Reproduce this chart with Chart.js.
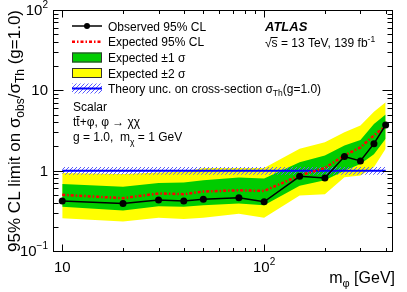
<!DOCTYPE html>
<html>
<head>
<meta charset="utf-8">
<script src="https://cdn.jsdelivr.net/npm/chart.js@4/dist/chart.umd.min.js"></script>
<style>
html,body{margin:0;padding:0;background:#fff;}
#wrap{width:407px;height:292px;}
</style>
</head>
<body>
<div id="wrap"><canvas id="c" width="407" height="292"></canvas></div>
<script>
// ---- data ----
const masses    = [10, 20, 30, 40, 50, 75, 100, 150, 200, 250, 300, 350, 400];
const observed  = [0.42, 0.39, 0.43, 0.42, 0.44, 0.46, 0.41, 0.85, 0.81, 1.50, 1.32, 2.17, 3.70];
const expected  = [0.50, 0.455, 0.52, 0.51, 0.55, 0.57, 0.56, 0.87, 1.08, 1.55, 1.95, 2.75, 3.60];
const exp1Up    = [0.68, 0.63, 0.70, 0.71, 0.76, 0.82, 0.80, 1.27, 1.54, 2.05, 2.40, 3.80, 5.00];
const exp1Down  = [0.355, 0.32, 0.36, 0.355, 0.37, 0.39, 0.37, 0.65, 0.76, 1.00, 1.21, 1.60, 2.50];
const exp2Up    = [0.935, 0.91, 0.95, 0.97, 1.08, 1.08, 1.08, 1.87, 2.26, 3.00, 3.65, 5.40, 7.10];
const exp2Down  = [0.256, 0.233, 0.26, 0.25, 0.26, 0.29, 0.26, 0.49, 0.51, 0.83, 0.87, 1.10, 1.87];
const theoryMass    = [10, 400];
const theoryCentral = [1.0, 1.0];
const theoryUp      = [1.11, 1.11];
const theoryDown    = [0.89, 0.89];

const xTickValues = [10, 100];
const xTickLabels = [['10', ''], ['10', '2']];
const yTickValues = [0.1, 1, 10, 100];
const yTickLabels = [['10', '\u22121'], ['1', ''], ['10', ''], ['10', '2']];
const xMinorTicks = [20, 30, 40, 50, 60, 70, 80, 90, 200, 300, 400];
const yMinorTicks = [0.2,0.3,0.4,0.5,0.6,0.7,0.8,0.9,2,3,4,5,6,7,8,9,20,30,40,50,60,70,80,90];

const legendLabels = ['Observed 95% CL', 'Expected 95% CL', 'Expected \u00b11 \u03c3', 'Expected \u00b12 \u03c3'];

const FONT = '"Liberation Sans", Arial, Helvetica, sans-serif';
const GREEN = '#00cc00', YELLOW = '#ffff00', RED = '#ff0000', BLUE = '#0000ff';

function pts(xs, ys){ return xs.map((x,i)=>({x:x, y:ys[i]})); }

// hatch pattern
const pc = document.createElement('canvas'); pc.width = 4; pc.height = 4;
const pctx = pc.getContext('2d');
pctx.strokeStyle = '#5a5aff'; pctx.lineWidth = 1;
pctx.beginPath();
pctx.moveTo(-1,5); pctx.lineTo(5,-1);
pctx.moveTo(-1,1); pctx.lineTo(1,-1);
pctx.moveTo(3,5); pctx.lineTo(5,3);
pctx.stroke();
const ctx0 = document.getElementById('c').getContext('2d');
const hatch = ctx0.createPattern(pc, 'repeat');

function drawRich(ctx, segs, x, y, align){
  let w = 0;
  segs.forEach(s=>{ ctx.font = (s.bold?'bold ':'')+(s.italic?'italic ':'')+s.size+'px '+FONT; s.w = ctx.measureText(s.t).width; w += s.w; });
  let cx = align==='right' ? x - w : (align==='center' ? x - w/2 : x);
  ctx.textAlign = 'left'; ctx.textBaseline = 'alphabetic';
  segs.forEach(s=>{ ctx.font = (s.bold?'bold ':'')+(s.italic?'italic ':'')+s.size+'px '+FONT; ctx.fillText(s.t, cx, y + (s.dy||0)); s.x0 = cx; cx += s.w; });
  return w;
}

const decor = {
  id: 'decor',
  afterDatasetsDraw(chart){
    const ctx = chart.ctx, a = chart.chartArea, xs = chart.scales.x, ys = chart.scales.y;
    ctx.save();
    ctx.fillStyle = '#000'; ctx.strokeStyle = '#000'; ctx.lineWidth = 1;
    // frame
    ctx.strokeRect(Math.round(a.left)+0.5, Math.round(a.top)+0.5, Math.round(a.right-a.left)-1, Math.round(a.bottom-a.top));
    // ticks
    ctx.beginPath();
    const L = Math.round(a.left)+0.5, R = Math.round(a.right)-0.5, T = Math.round(a.top)+0.5, B = Math.round(a.bottom)+0.5;
    xTickValues.forEach(v=>{ const p = Math.round(xs.getPixelForValue(v))+0.5; ctx.moveTo(p,B); ctx.lineTo(p,B-7); ctx.moveTo(p,T); ctx.lineTo(p,T+7); });
    xMinorTicks.forEach(v=>{ const p = Math.round(xs.getPixelForValue(v))+0.5; ctx.moveTo(p,B); ctx.lineTo(p,B-3.5); ctx.moveTo(p,T); ctx.lineTo(p,T+3.5); });
    yTickValues.forEach(v=>{ const p = Math.round(ys.getPixelForValue(v))+0.5; ctx.moveTo(L,p); ctx.lineTo(L+10,p); ctx.moveTo(R,p); ctx.lineTo(R-10,p); });
    yMinorTicks.forEach(v=>{ const p = Math.round(ys.getPixelForValue(v))+0.5; ctx.moveTo(L,p); ctx.lineTo(L+5,p); ctx.moveTo(R,p); ctx.lineTo(R-5,p); });
    ctx.stroke();
    // tick labels
    yTickValues.forEach((v,i)=>{
      const p = ys.getPixelForValue(v);
      drawRich(ctx, [{t:yTickLabels[i][0], size:15}, {t:yTickLabels[i][1], size:10, dy:-7}], 48, p+5, 'right');
    });
    xTickValues.forEach((v,i)=>{
      const p = xs.getPixelForValue(v);
      drawRich(ctx, [{t:xTickLabels[i][0], size:15}, {t:xTickLabels[i][1], size:10, dy:-7}], p, 272, 'center');
    });
    // axis titles
    drawRich(ctx, [{t:'m', size:16}, {t:'\u03c6', size:11, dy:4}, {t:' [GeV]', size:16}], 395, 283, 'right');
    ctx.save();
    ctx.translate(20, 10); ctx.rotate(-Math.PI/2);
    drawRich(ctx, [{t:'95% CL limit on \u03c3', size:17}, {t:'obs', size:12, dy:4}, {t:'/\u03c3', size:17}, {t:'Th', size:12, dy:4}, {t:' (g=1.0)', size:17}], 0, 0, 'right');
    ctx.restore();

    // legend
    const lx0 = 72, lx1 = 102, tx = 108;
    const rows = [30.5, 46.3, 62, 77.5, 93];
    // observed
    let cy = rows[0]-4.5;
    ctx.strokeStyle = '#000'; ctx.lineWidth = 1.5; ctx.setLineDash([]);
    ctx.beginPath(); ctx.moveTo(lx0, cy); ctx.lineTo(lx1, cy); ctx.stroke();
    ctx.beginPath(); ctx.arc((lx0+lx1)/2, cy, 3, 0, 2*Math.PI); ctx.fill();
    // expected
    cy = rows[1]-4.5;
    ctx.strokeStyle = RED; ctx.lineWidth = 2.5; ctx.setLineDash([3,2,1.5,2]);
    ctx.beginPath(); ctx.moveTo(lx0, cy); ctx.lineTo(lx1, cy); ctx.stroke();
    ctx.setLineDash([]);
    // boxes
    ctx.lineWidth = 1; ctx.strokeStyle = '#333';
    [[GREEN, rows[2]], [YELLOW, rows[3]]].forEach(([c, r])=>{
      ctx.fillStyle = c; ctx.fillRect(lx0, r-9.5, lx1-lx0, 10);
      ctx.strokeRect(lx0+0.5, r-9.5+0.5, lx1-lx0-1, 10-1);
    });
    // theory
    cy = rows[4]-4.5;
    ctx.fillStyle = hatch; ctx.fillRect(lx0, cy-5, lx1-lx0, 10);
    ctx.strokeStyle = BLUE; ctx.lineWidth = 2;
    ctx.beginPath(); ctx.moveTo(lx0, cy); ctx.lineTo(lx1, cy); ctx.stroke();
    ctx.fillStyle = '#000';
    legendLabels.forEach((t,i)=>{ drawRich(ctx, [{t:t, size:12}], tx, rows[i], 'left'); });
    drawRich(ctx, [{t:'Theory unc. on cross-section \u03c3', size:12}, {t:'Th', size:8.5, dy:3}, {t:'(g=1.0)', size:12}], tx, rows[4], 'left');

    // ATLAS label
    drawRich(ctx, [{t:'ATLAS', size:13, bold:true, italic:true}], 265, 30.5, 'left');
    const segs = [{t:'\u221a', size:12}, {t:'s', size:12}, {t:' = 13 TeV, 139 fb', size:12}, {t:'-1', size:8.5, dy:-5}];
    drawRich(ctx, segs, 265, 46.5, 'left');
    ctx.strokeStyle = '#000'; ctx.lineWidth = 1;
    ctx.beginPath(); ctx.moveTo(segs[1].x0 - 1, 37.5); ctx.lineTo(segs[1].x0 + segs[1].w, 37.5); ctx.stroke();

    // model text
    drawRich(ctx, [{t:'Scalar', size:12}], 73, 111, 'left');
    const s2 = [{t:'t', size:12}, {t:'t', size:12}, {t:'+\u03c6, \u03c6 \u2192 \u03c7\u03c7', size:12}];
    drawRich(ctx, s2, 73, 125.5, 'left');
    ctx.beginPath(); ctx.moveTo(s2[1].x0, 116.5); ctx.lineTo(s2[1].x0 + s2[1].w, 116.5); ctx.stroke();
    drawRich(ctx, [{t:'g = 1.0,  m', size:12}, {t:'\u03c7', size:8.5, dy:4}, {t:' = 1 GeV', size:12}], 73, 140.5, 'left');
    ctx.restore();
  }
};

new Chart(document.getElementById('c'), {
  type: 'line',
  data: {
    datasets: [
      { label:'Expected \u00b12 \u03c3 up', data: pts(masses, exp2Up), borderWidth:0, pointRadius:0, backgroundColor:YELLOW, fill:1, order:8 },
      { label:'Expected \u00b12 \u03c3 down', data: pts(masses, exp2Down), borderWidth:0, pointRadius:0, fill:false, order:8 },
      { label:'Expected \u00b11 \u03c3 up', data: pts(masses, exp1Up), borderWidth:0, pointRadius:0, backgroundColor:GREEN, fill:3, order:7 },
      { label:'Expected \u00b11 \u03c3 down', data: pts(masses, exp1Down), borderWidth:0, pointRadius:0, fill:false, order:7 },
      { label:'Theory up', data: pts(theoryMass, theoryUp), borderWidth:0, pointRadius:0, backgroundColor:hatch, fill:5, order:6 },
      { label:'Theory down', data: pts(theoryMass, theoryDown), borderWidth:0, pointRadius:0, fill:false, order:6 },
      { label:'Theory', data: pts(theoryMass, theoryCentral), borderColor:BLUE, borderWidth:2, pointRadius:0, fill:false, order:5 },
      { label:'Expected 95% CL', data: pts(masses, expected), borderColor:RED, borderWidth:2.5, borderDash:[3,2,1.5,2], pointRadius:0, fill:false, order:4 },
      { label:'Observed 95% CL', data: pts(masses, observed), borderColor:'#000', borderWidth:1.5, pointRadius:3.5, pointBackgroundColor:'#000', pointBorderColor:'#000', pointBorderWidth:0, fill:false, order:3 }
    ]
  },
  options: {
    responsive: false,
    animation: false,
    devicePixelRatio: 1,
    layout: { padding: { left: 53, right: 14, top: 10, bottom: 41 } },
    plugins: { legend: { display:false }, tooltip: { enabled:false } },
    elements: { line: { tension: 0 } },
    scales: {
      x: { type:'logarithmic', min:9, max:435, display:false },
      y: { type:'logarithmic', min:0.1, max:100, display:false }
    }
  },
  plugins: [decor]
});
</script>
</body>
</html>
